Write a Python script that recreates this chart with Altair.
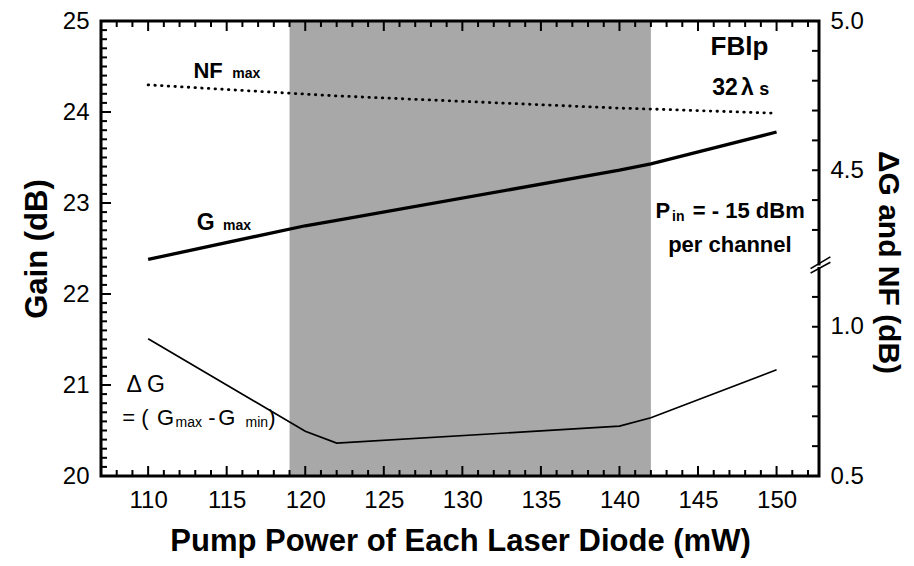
import altair as alt
import pandas as pd

# ---------------- data ----------------
pump_mw = [110, 120, 122, 140, 142, 150]
gain_max_db = [22.38, 22.75, 22.81, 23.36, 23.43, 23.78]
delta_g_db = [0.96, 0.65, 0.61, 0.667, 0.695, 0.856]
nf_max_db = [4.786, 4.755, 4.749, 4.708, 4.705, 4.691]

shade_from = [119]
shade_to = [142]

x_domain = [107, 152.7]
gain_domain = [20, 25]
x_major = [110, 115, 120, 125, 130, 135, 140, 145, 150]
x_minor = [v for v in range(108, 153) if v % 5 != 0]
gain_major = [20, 21, 22, 23, 24, 25]
gain_minor = [round(20 + i / 10, 1) for i in range(1, 50) if i % 10 != 0]
right_ticks_low = [0.5, 0.6, 0.7, 0.8, 0.9, 1.0, 1.1]
right_ticks_high = [4.3, 4.4, 4.5, 4.6, 4.7, 4.8, 4.9, 5.0]
right_labels = [0.5, 1.0, 4.5, 5.0]
break_low = [22.28]   # right axis line ends (gain-equivalent units)
break_high = [22.33]  # right axis line resumes

K = 3.28  # gain-dB per dB of the broken right axis

W, H = 718, 455
PX_X = W / (x_domain[1] - x_domain[0])          # pixels per mW
PX_Y = H / (gain_domain[1] - gain_domain[0])    # pixels per dB of gain


def right_to_gain(v):
    return 20 + (v - 0.5) * K if v < 3 else 25 - (5.0 - v) * K


df = pd.DataFrame({"pump": pump_mw, "gmax": gain_max_db, "dg": delta_g_db, "nf": nf_max_db})
dummy = pd.DataFrame({"x": [130.0], "y": [22.5]})

xs = alt.Scale(domain=x_domain, nice=False, zero=False)
ys = alt.Scale(domain=gain_domain, nice=False, zero=False)

FONT = "Liberation Sans"


def XD(v):
    return alt.XDatum(v, scale=xs, axis=None, type="quantitative")


def YD(v):
    return alt.YDatum(v, scale=ys, axis=None, type="quantitative")


def polylines(segments, width):
    """segments: list of point lists [(x, y), ...]; drawn as separate paths."""
    rows = []
    for sid, pts in enumerate(segments):
        for o, (px, py) in enumerate(pts):
            rows.append({"sid": sid, "o": o, "px": px, "py": py})
    return alt.Chart(pd.DataFrame(rows)).mark_line(
        color="black", strokeWidth=width, strokeCap="square"
    ).encode(
        x=alt.X("px:Q", scale=xs, axis=None),
        y=alt.Y("py:Q", scale=ys, axis=None),
        detail="sid:N",
        order="o:Q",
    )


# ---------------- data layers ----------------
shade = alt.Chart(pd.DataFrame({"a": shade_from, "b": shade_to})).mark_rect(color="#a8a8a8").encode(
    x=alt.X("a:Q", scale=xs, axis=None),
    x2="b:Q",
    y=YD(gain_domain[0]),
    y2=alt.Y2Datum(gain_domain[1]),
)

gmax_line = alt.Chart(df).mark_line(color="black", strokeWidth=3.3).encode(
    x=alt.X("pump:Q", scale=xs, axis=None),
    y=alt.Y("gmax:Q", scale=ys, axis=None),
)

dg_line = alt.Chart(df).transform_calculate(
    g=f"20 + (datum.dg - 0.5) * {K}"
).mark_line(color="black", strokeWidth=1.7).encode(
    x=alt.X("pump:Q", scale=xs, axis=None),
    y=alt.Y("g:Q", scale=ys, axis=None),
)

nf_line = alt.Chart(df).transform_calculate(
    g=f"25 - (5 - datum.nf) * {K}"
).mark_line(color="black", strokeWidth=2.8, strokeDash=[0.5, 6.2], strokeCap="round").encode(
    x=alt.X("pump:Q", scale=xs, axis=None),
    y=alt.Y("g:Q", scale=ys, axis=None),
)

# ---------------- frame (broken on the right) ----------------
x0, x1 = x_domain
y0, y1 = gain_domain
frame = polylines([
    [(x1, break_low[0]), (x1, y0), (x0, y0), (x0, y1), (x1, y1), (x1, break_high[0])],
], 3)

break_marks = polylines([
    [(152.21, 22.234), (153.38, 22.344)],
    [(152.21, 22.283), (153.38, 22.404)],
], 1.6)

# ---------------- inward tick marks ----------------
right_tick_pos = [round(right_to_gain(v), 4) for v in right_ticks_low + right_ticks_high]
major_segments = []
major_segments += [[(v, y0), (v, y0 + 9 / PX_Y)] for v in x_major]
major_segments += [[(v, y1), (v, y1 - 9 / PX_Y)] for v in x_major]
major_segments += [[(x0, v), (x0 + 9 / PX_X, v)] for v in gain_major]
minor_segments = []
minor_segments += [[(v, y0), (v, y0 + 5 / PX_Y)] for v in x_minor]
minor_segments += [[(v, y1), (v, y1 - 5 / PX_Y)] for v in x_minor]
minor_segments += [[(x0, v), (x0 + 5 / PX_X, v)] for v in gain_minor]
minor_segments += [[(x1, v), (x1 - 6 / PX_X, v)] for v in right_tick_pos]
ticks_major = polylines(major_segments, 2)
ticks_minor = polylines(minor_segments, 2)

# ---------------- axis labels & titles ----------------
right_label_pos = [round(right_to_gain(v), 4) for v in right_labels]
expr = f"'{right_labels[-1]:.1f}'"
for i in range(len(right_labels) - 2, -1, -1):
    mid = (right_label_pos[i] + right_label_pos[i + 1]) / 2
    expr = f"datum.value < {mid:.3f} ? '{right_labels[i]:.1f}' : ({expr})"


def ax(orient, values, **kw):
    args = dict(orient=orient, values=values, grid=False, domain=False, ticks=False, labels=True)
    args.update(kw)
    return alt.Axis(**args)


axLabels = alt.Chart(dummy).mark_point(opacity=0).encode(
    x=alt.X("x:Q", scale=xs, axis=ax("bottom", x_major, labelPadding=12,
                                     title="Pump Power of Each Laser Diode (mW)", titlePadding=14,
                                     titleFontSize=31)),
    y=alt.Y("y:Q", scale=ys, axis=ax("left", gain_major, labelPadding=12,
                                     title="Gain (dB)", titlePadding=9, titleFontSize=31)),
)
axRight = alt.Chart(dummy).mark_point(opacity=0).encode(
    x=alt.X("x:Q", scale=xs, axis=None),
    y=alt.Y("y:Q", scale=ys, axis=ax("right", right_label_pos, labelPadding=11, labelExpr=expr,
                                     title="ΔG and NF (dB)", titlePadding=9, titleY=241,
                                     titleFontSize=30)),
)


# ---------------- annotations ----------------
def note(text, x, y, size, bold=True):
    return alt.Chart(dummy).mark_text(
        text=text, align="left", baseline="alphabetic", font=FONT, fontSize=size,
        fontWeight="bold" if bold else "normal", color="black",
    ).encode(x=XD(x), y=YD(y))


notes = [
    note("NF", 112.88, 24.37, 22),
    note("max", 115.36, 24.37, 14),
    note("FBlp", 145.8, 24.63, 26),
    note("32", 145.9, 24.19, 23),
    note("λ", 147.73, 24.19, 23),
    note("s", 148.9, 24.19, 18),
    note("G", 113.1, 22.70, 23),
    note("max", 114.77, 22.70, 14),
    note("P", 142.3, 22.835, 22),
    note("in", 143.35, 22.806, 14),
    note("= - 15 dBm", 144.67, 22.835, 22),
    note("per channel", 143.1, 22.46, 22),
    note("Δ G", 108.62, 20.92, 23, bold=False),
    note("= (", 108.35, 20.56, 22, bold=False),
    note("G", 110.57, 20.56, 22, bold=False),
    note("max", 111.74, 20.54, 14, bold=False),
    note("-", 113.83, 20.56, 22, bold=False),
    note("G", 114.47, 20.56, 22, bold=False),
    note("min", 116.2, 20.54, 14, bold=False),
    note(")", 117.65, 20.56, 22, bold=False),
]

chart = alt.layer(
    shade, gmax_line, dg_line, nf_line, frame, break_marks, ticks_major, ticks_minor,
    axLabels, axRight, *notes,
).resolve_scale(x="independent", y="independent").properties(
    width=W, height=H,
    autosize=alt.AutoSizeParams(type="none"),
    padding={"left": 101, "top": 21, "right": 95, "bottom": 90},
    background="white",
).configure_view(stroke=None).configure_axis(
    labelFont=FONT, labelFontSize=24, labelColor="black",
    titleFont=FONT, titleFontSize=29, titleFontWeight="bold", titleColor="black",
)

chart.save("out.html", embed_options={"renderer": "svg", "actions": False})
